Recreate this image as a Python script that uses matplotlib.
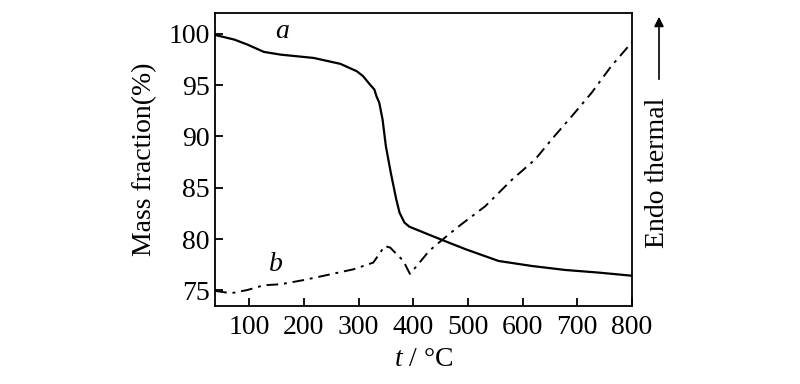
import matplotlib
matplotlib.use('Agg')
import matplotlib.pyplot as plt

plt.rcParams['font.family'] = ['Liberation Serif', 'DejaVu Serif']
plt.rcParams['mathtext.fontset'] = 'custom'
plt.rcParams['mathtext.rm'] = 'Liberation Serif'
plt.rcParams['mathtext.it'] = 'Liberation Serif:italic'

# curve a: TG mass fraction
t_a = [38, 73, 97, 127, 158, 218, 267, 297, 308, 321, 329, 333, 338, 344, 350, 359,
       369, 375, 384, 393, 405, 435, 465, 496, 556, 617, 678, 738, 800]
m_a = [99.9, 99.45, 98.96, 98.25, 97.98, 97.66, 97.08, 96.36, 95.9, 95.06, 94.58, 93.9,
       93.28, 91.65, 89.06, 86.47, 83.87, 82.57, 81.6, 81.2, 80.94, 80.29, 79.65, 79.0,
       77.86, 77.37, 76.98, 76.73, 76.42]

# curve b: DTA signal (arbitrary, drawn on same scale)
t_b = [38, 67, 97, 127, 158, 200, 249, 291, 327, 348, 358, 382, 394, 410, 429, 447,
       484, 532, 581, 623, 653, 690, 726, 762, 800]
m_b = [74.94, 74.71, 75.03, 75.49, 75.59, 76.0, 76.56, 77.05, 77.7, 79.32, 79.16,
       77.86, 76.6, 77.6, 78.83, 79.65, 81.27, 83.21, 85.81, 87.76, 89.71, 91.98,
       94.25, 96.85, 99.2]

xticks = [100, 200, 300, 400, 500, 600, 700, 800]
yticks = [75, 80, 85, 90, 95, 100]

fig = plt.figure(figsize=(8, 3.84), dpi=100)
ax = fig.add_axes([0.269, 0.204, 0.521, 0.761])

ax.plot(t_a, m_a, color='black', lw=1.6)
ax.plot(t_b, m_b, color='black', lw=1.4, dashes=[6, 3, 1.5, 3])

ax.set_xlim(38, 800)
ax.set_ylim(73.5, 102)
ax.set_xticks(xticks)
ax.set_yticks(yticks)
ax.tick_params(direction='in', length=6, width=1.3, labelsize=20, pad=7)
ax.tick_params(axis='y', pad=4)
for s in ax.spines.values():
    s.set_linewidth(1.3)

ax.text(160, 100.2, 'a', fontsize=20, style='italic', ha='center', va='center')
ax.text(149, 77.5, 'b', fontsize=20, style='italic', ha='center', va='center')

ax.set_ylabel('Mass fraction(%)', fontsize=20, labelpad=8)
ax.set_xlabel('$t$ / °C', fontsize=20, labelpad=5)

fig.text(658 / 800, 1 - 173 / 384, 'Endo thermal', rotation=90, fontsize=20,
         ha='center', va='center')
fig.add_artist(matplotlib.patches.FancyArrowPatch(
    (659 / 800, 1 - 82 / 384), (659 / 800, 1 - 14 / 384),
    transform=fig.transFigure, arrowstyle='-|>', mutation_scale=14,
    color='black', lw=1.2))

fig.savefig('out.png', dpi=100)
